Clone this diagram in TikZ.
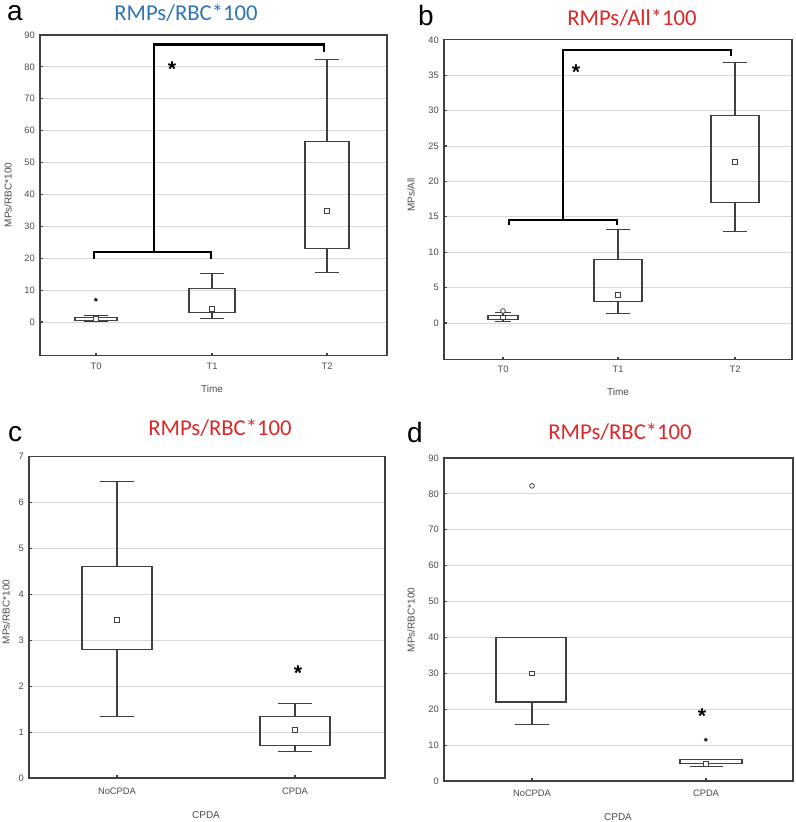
\documentclass[tikz,border=0pt]{standalone}
\usepackage{fontspec}
\setmainfont{Liberation Sans}
\newfontfamily\titlefont{Carlito}
\usetikzlibrary{calc}
\definecolor{tblue}{RGB}{46,117,182}
\definecolor{tred}{RGB}{220,40,40}
\definecolor{gridc}{RGB}{215,215,215}
\tikzset{
 frame/.style={draw=black!75, line width=0.9pt},
 gridl/.style={draw=gridc, line width=0.6pt},
 boxl/.style={draw=black!75, line width=0.8pt},
 brk/.style={draw=black, line width=1.6pt},
 meanmk/.style={draw=black!75, fill=white, line width=0.6pt, rectangle, inner sep=0pt, minimum size=3.5pt},
 outmk/.style={draw=black!75, fill=white, line width=0.6pt, circle, inner sep=0pt, minimum size=3.5pt},
 ticklab/.style={font=\fontsize{7}{8}\selectfont, text=black!70, inner sep=0pt},
 axlab/.style={font=\fontsize{7.5}{8}\selectfont, text=black!70, inner sep=0pt},
 ttl/.style={font=\titlefont\fontsize{17}{18}\selectfont, inner sep=0pt},
 letter/.style={font=\fontsize{21}{22}\selectfont, inner sep=0pt},
 star/.style={font=\fontsize{16}{16}\selectfont\bfseries, inner sep=0pt},
 smstar/.style={font=\fontsize{8}{8}\selectfont\bfseries, inner sep=0pt},
}
% \bx{xc}{halfwidth}{lo}{q1}{q3}{hi}{mean}{caphalf}
\newcommand\bx[8]{%
 \draw[boxl] (#1-#2,#4) rectangle (#1+#2,#5);
 \draw[boxl] (#1,#5) -- (#1,#6) (#1-#8,#6) -- (#1+#8,#6);
 \draw[boxl] (#1,#4) -- (#1,#3) (#1-#8,#3) -- (#1+#8,#3);
 \node[meanmk] at (#1,#7) {};
}
\begin{document}
\begin{tikzpicture}[x=0.75pt,y=-0.75pt]
\useasboundingbox (0,0) rectangle (796,822);
\fill[white] (0,0) rectangle (796,822);
% ===== panel a =====
\node[letter] (la) at (15,13) {a};
\node[ttl,text=tblue] (ta) at (186,13) {RMPs/RBC*100};
\begin{scope}[shift={(0,322)},yscale=-3.19]
 \foreach \v in {0,10,...,80} \draw[gridl] (40,\v) -- (387,\v);
 \foreach \v in {0,10,...,90} {\draw[frame] (40,\v) -- (43,\v); \node[ticklab,anchor=east] at (35,\v) {\v};}
 \draw[frame] (40,90) rectangle (387,-10.5);
 \bx{96}{21}{0.1}{0.4}{1.3}{2}{1}{12}
 \node[smstar] (oa) at (96,6.4) {*};
 \bx{212}{23}{1.2}{3}{10.5}{15.2}{4.2}{12}
 \bx{327}{22}{15.5}{23}{56.5}{82.2}{34.8}{12}
 \coordinate (a1) at (94,19.8); \coordinate (a2) at (211,19.8);
 \coordinate (a3) at (324,84.5);
 \draw[brk] (a1) -- (94,22) -- (211,22) -- (a2);
 \draw[brk] (154,22) -- (154,87) -- (324,87) -- (a3);
 \node[star] (sa) at (172,79.2) {*};
 \foreach \x/\t in {96/T0,212/T1,327/T2} {\draw[frame] (\x,-10.5) -- (\x,-9.6); \node[ticklab] at (\x,-14) {\t};}
 \node[axlab] (xa) at (212,-21) {Time};
\end{scope}
\node[axlab,rotate=90] (ya) at (8,195) {MPs/RBC*100};
% ===== panel b =====
\node[letter] (lb) at (426,15) {b};
\node[ttl,text=tred] (tb) at (632,18) {RMPs/All*100};
\begin{scope}[shift={(0,323)},yscale=-7.08]
 \foreach \v in {0,5,...,35} \draw[gridl] (444,\v) -- (792,\v);
 \foreach \v in {0,5,...,40} {\draw[frame] (444,\v) -- (447,\v); \node[ticklab,anchor=east] at (439,\v) {\v};}
 \draw[frame] (444,40) rectangle (792,-5.2);
 \bx{503}{15}{0.2}{0.5}{1.0}{1.5}{0.8}{8}
 \node[outmk] at (503,1.7) {};
 \bx{618}{24}{1.3}{3}{9}{13.2}{4}{12}
 \bx{735}{24}{12.9}{17}{29.3}{36.8}{22.8}{12}
 \coordinate (b1) at (509,13.8); \coordinate (b2) at (617,13.8);
 \coordinate (b3) at (731,37.7);
 \draw[brk] (b1) -- (509,14.6) -- (617,14.6) -- (b2);
 \draw[brk] (563,14.6) -- (563,38.5) -- (731,38.5) -- (b3);
 \node[star] (sb) at (576,35.5) {*};
 \foreach \x/\t in {503/T0,618/T1,735/T2} {\draw[frame] (\x,-5.2) -- (\x,-4.8); \node[ticklab] at (\x,-6.6) {\t};}
 \node[axlab] (xb) at (618,-9.8) {Time};
\end{scope}
\node[axlab,rotate=90] (yb) at (411,195) {MPs/All};
% ===== panel c =====
\node[letter] (lc) at (15,434) {c};
\node[ttl,text=tred] (tc) at (220,428) {RMPs/RBC*100};
\begin{scope}[shift={(0,778)},yscale=-45.9]
 \foreach \v in {1,...,6} \draw[gridl] (29,\v) -- (385,\v);
 \foreach \v in {0,...,7} {\draw[frame] (29,\v) -- (32,\v); \node[ticklab,anchor=east] at (24,\v) {\v};}
 \draw[frame] (29,7) rectangle (385,0);
 \bx{117}{35}{1.33}{2.8}{4.6}{6.47}{3.45}{17}
 \bx{295}{35}{0.57}{0.7}{1.35}{1.63}{1.05}{17}
 \node[star] (sc) at (298,2.28) {*};
 \foreach \x/\t in {117/NoCPDA,295/CPDA} {\draw[frame] (\x,0) -- (\x,0.07); \node[ticklab] at (\x,-0.29) {\t};}
 \node[axlab] (xc) at (206,-0.8) {CPDA};
\end{scope}
\node[axlab,rotate=90] (yc) at (6,612) {MPs/RBC*100};
% ===== panel d =====
\node[letter] (ld) at (415,432) {d};
\node[ttl,text=tred] (td) at (620,432) {RMPs/RBC*100};
\begin{scope}[shift={(0,781)},yscale=-3.59]
 \foreach \v in {10,20,...,80} \draw[gridl] (444,\v) -- (793,\v);
 \foreach \v in {0,10,...,90} {\draw[frame] (444,\v) -- (447,\v); \node[ticklab,anchor=east] at (439,\v) {\v};}
 \draw[frame] (444,90) rectangle (793,0);
 \draw[boxl] (496,22) rectangle (566,40);
 \draw[boxl] (532,22) -- (532,15.8) (515,15.8) -- (549,15.8);
 \node[meanmk] at (532,30) {};
 \node[outmk] at (532,82.2) {};
 \draw[boxl] (680,4.8) rectangle (742,6);
 \draw[boxl] (706,4.8) -- (706,4) (690,4) -- (723,4);
 \node[meanmk] at (706,4.8) {};
 \node[smstar] (od) at (706,10.8) {*};
 \node[star] (sd) at (702,18.2) {*};
 \foreach \x/\t in {532/NoCPDA,706/CPDA} {\draw[frame] (\x,0) -- (\x,0.8); \node[ticklab] at (\x,-3.4) {\t};}
 \node[axlab] (xd) at (618,-10) {CPDA};
\end{scope}
\node[axlab,rotate=90] (yd) at (411,620) {MPs/RBC*100};
\end{tikzpicture}
\end{document}
